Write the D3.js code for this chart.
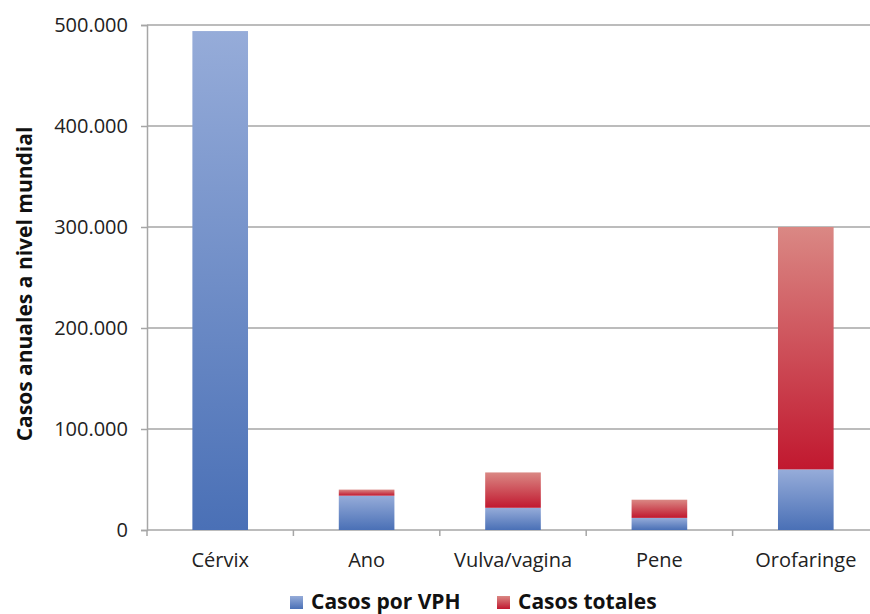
<!DOCTYPE html>
<html><head><meta charset="utf-8">
<script src="https://cdn.jsdelivr.net/npm/d3@7"></script>
<style>body{margin:0;background:#fff}svg{display:block}</style>
</head><body>
<svg id="c" width="870" height="614"></svg>
<script>
const categories = ["Cérvix","Ano","Vulva/vagina","Pene","Orofaringe"];
const casosVPH = [494000, 34000, 22000, 12000, 60000];
const casosTotales = [494000, 40000, 57000, 30000, 300000];
const yTicks = [0,100000,200000,300000,400000,500000];
const seriesNames = ["Casos por VPH","Casos totales"];

const svg = d3.select("#c");
const font = "'Open Sans', sans-serif";
const x = d3.scaleBand().domain(categories).range([147, 879]).paddingInner(0.62).paddingOuter(0.31);
const y = d3.scaleLinear().domain([0, 500000]).range([530, 25]);

const defs = svg.append("defs");
function grad(id, c1, c2){
  const g = defs.append("linearGradient").attr("id", id).attr("x1",0).attr("y1",0).attr("x2",0).attr("y2",1);
  g.append("stop").attr("offset","0%").attr("stop-color",c1);
  g.append("stop").attr("offset","100%").attr("stop-color",c2);
}
grad("gBlue", "#96acd9", "#4a70b6");
grad("gRed", "#da8884", "#c1182f");

// gridlines
svg.append("g").selectAll("line").data(yTicks.slice(1)).join("line")
  .attr("x1",147).attr("x2",870).attr("y1",d=>y(d)).attr("y2",d=>y(d))
  .attr("stroke","#a6a6a6").attr("stroke-width",1.5);

// y axis
const yAxis = svg.append("g").attr("transform","translate(147,0)")
  .call(d3.axisLeft(y).tickValues(yTicks).tickSize(6).tickPadding(13)
    .tickFormat(d => d3.format(",")(d).replace(/,/g,".")));
yAxis.select(".domain").attr("stroke","#a6a6a6").attr("stroke-width",1.5);
yAxis.selectAll(".tick line").attr("stroke","#a6a6a6").attr("stroke-width",1.5);
yAxis.selectAll("text").attr("font-family",font).attr("font-size",20).attr("fill","#222");

// x axis
const xAxis = svg.append("g").attr("transform","translate(0,530)")
  .call(d3.axisBottom(x).tickSize(0).tickPadding(23));
xAxis.select(".domain").attr("stroke","#a6a6a6").attr("stroke-width",1.5).attr("d","M147,0H870");
xAxis.selectAll("text").attr("font-family",font).attr("font-size",20).attr("fill","#222");
const step = x.step();
svg.append("g").selectAll("line").data(d3.range(0, categories.length+1)).join("line")
  .attr("x1",i=>147+i*step).attr("x2",i=>147+i*step).attr("y1",530).attr("y2",536)
  .attr("stroke","#a6a6a6").attr("stroke-width",1.5);

// bars
const g = svg.append("g");
categories.forEach((c,i)=>{
  g.append("rect").attr("x",x(c)).attr("width",x.bandwidth())
    .attr("y",y(casosVPH[i])).attr("height",y(0)-y(casosVPH[i])).attr("fill","url(#gBlue)");
  if (casosTotales[i] > casosVPH[i]) {
    g.append("rect").attr("x",x(c)).attr("width",x.bandwidth())
      .attr("y",y(casosTotales[i])).attr("height",y(casosVPH[i])-y(casosTotales[i])).attr("fill","url(#gRed)");
  }
});

// y label
svg.append("text").attr("transform","translate(32,284) rotate(-90)")
  .attr("text-anchor","middle").attr("font-family",font).attr("font-weight","bold")
  .attr("font-size",21).attr("fill","#111").text("Casos anuales a nivel mundial");

// legend
const leg = svg.append("g");
const lx = [290, 497];
seriesNames.forEach((n,i)=>{
  leg.append("rect").attr("x",lx[i]).attr("y",596).attr("width",13).attr("height",13)
    .attr("fill", i===0 ? "url(#gBlue)" : "url(#gRed)");
  leg.append("text").attr("x",lx[i]+21).attr("y",609).attr("font-family",font)
    .attr("font-weight","bold").attr("font-size",21).attr("fill","#111").text(n);
});
</script>
</body></html>
